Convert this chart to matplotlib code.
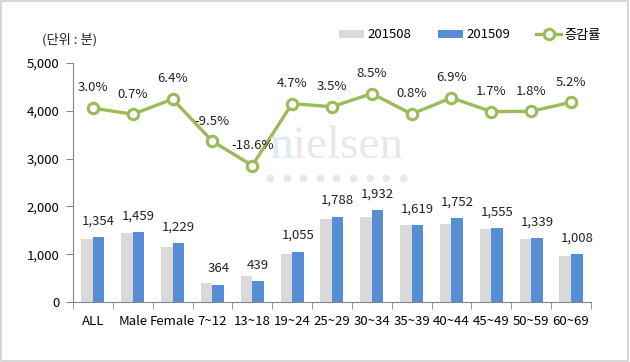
import numpy as np
import matplotlib
matplotlib.use("Agg")
import matplotlib.pyplot as plt
from matplotlib.patches import Rectangle
from matplotlib.lines import Line2D

plt.rcParams['font.family'] = ['Noto Sans CJK KR', 'DejaVu Sans']

categories = ["ALL", "Male", "Female", "7~12", "13~18", "19~24", "25~29",
              "30~34", "35~39", "40~44", "45~49", "50~59", "60~69"]
v201508 = [1314, 1449, 1155, 402, 539, 1008, 1727, 1781, 1606, 1639, 1529, 1315, 958]
v201509 = [1354, 1459, 1229, 364, 439, 1055, 1788, 1932, 1619, 1752, 1555, 1339, 1008]
change = [3.0, 0.7, 6.4, -9.5, -18.6, 4.7, 3.5, 8.5, 0.8, 6.9, 1.7, 1.8, 5.2]

gray = "#D9D9D9"
blue = "#558ED5"
green = "#9BBB59"
axis_col = "#868686"

fig = plt.figure(figsize=(6.3, 3.62), dpi=100)
fig.patches.append(Rectangle((0.001, 0.002), 0.996, 0.995, transform=fig.transFigure,
                             fill=False, edgecolor="#D0D0D0", lw=1.2))

# watermark
fig.text(270 / 630, 1 - 158 / 362, "nielsen", fontsize=34, family="Liberation Serif",
         color="#E8E8E8", va="baseline", ha="left", zorder=0)
fig.text(270 / 630, 1 - 158 / 362, "n", fontsize=34, family="Liberation Serif",
         color="#DDEDF6", va="baseline", ha="left", zorder=0)
dots_x = [(270 + i * 16.6) / 630 for i in range(9)]
fig.add_artist(Line2D(dots_x, [1 - 178 / 362] * 9, transform=fig.transFigure,
                      ls="none", marker="o", markersize=4.5, color="#E8E8E8", zorder=0))

ax = fig.add_axes([0.1159, 0.1657, 0.822, 0.6603])
ax.patch.set_alpha(0)
x = np.arange(len(categories))
w = 0.29
ax.bar(x - w / 2, v201508, w, color=gray, label="201508", zorder=2)
ax.bar(x + w / 2, v201509, w, color=blue, label="201509", zorder=2)

for xi, v in zip(x, v201509):
    ax.annotate(f"{v:,}", (xi + w / 2, v), xytext=(0, 11.5), textcoords="offset points",
                ha="center", va="center", fontsize=9.5, color="#222222")

ax.set_xlim(-0.5, len(categories) - 0.5)
ax.set_ylim(0, 5000)
ax.set_yticks(np.arange(0, 5001, 1000))
ax.set_yticklabels([f"{t:,}" for t in range(0, 5001, 1000)], fontsize=9.5)
ax.set_xticks(x)
ax.set_xticklabels(categories, fontsize=9.5)
ax.set_xticks(np.arange(-0.5, len(categories)), minor=True)
ax.tick_params(axis="x", which="major", length=0, pad=9)
ax.tick_params(axis="x", which="minor", length=5, color=axis_col, direction="out")
ax.tick_params(axis="y", length=5, color=axis_col, pad=5)
for s in ["top", "right"]:
    ax.spines[s].set_visible(False)
ax.spines["left"].set_color(axis_col)
ax.spines["bottom"].set_color(axis_col)

ax2 = ax.twinx()
ax2.set_ylim(-70, 20)
ax2.plot(x, change, color=green, lw=2.4, marker="o", markersize=7.5,
         markerfacecolor="white", markeredgecolor=green, markeredgewidth=2.2,
         label="증감률", zorder=3)
for xi, c in zip(x, change):
    ax2.annotate(f"{c:.1f}%", (xi, c), xytext=(0, 14.5), textcoords="offset points",
                 ha="center", va="center", fontsize=9.5, color="#222222")
ax2.axis("off")

fig.text(42 / 630, 1 - 40 / 362, "(단위 : 분)", fontsize=9.5, va="center", ha="left",
         color="#222222")

h1, l1 = ax.get_legend_handles_labels()
h2, l2 = ax2.get_legend_handles_labels()
fig.legend(h1 + h2, l1 + l2, loc="center", bbox_to_anchor=(470 / 630, 1 - 35 / 362),
           ncol=3, frameon=False, fontsize=9.5, handlelength=1.9, handleheight=0.55,
           columnspacing=2.0, handletextpad=0.25)

fig.savefig("out.png", dpi=100)
